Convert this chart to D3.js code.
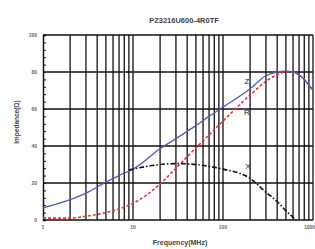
<!DOCTYPE html>
<html>
<head>
<meta charset="utf-8">
<script src="https://cdn.jsdelivr.net/npm/d3@7"></script>
<style>
body { margin: 0; background: #fff; }
svg { display: block; font-family: "Liberation Sans", Arial, sans-serif; }
</style>
</head>
<body>
<div id="chart"></div>
<script>
// data (frequency in MHz, impedance in ohm)
var freqZR = [1, 2, 3, 5, 7, 10, 20, 30, 50, 70, 100, 200, 300, 400, 500, 600, 700, 1000];
var zVals  = [6.5, 11, 14.5, 20.5, 24, 27.5, 38.5, 44, 51, 56, 61, 71, 78, 80, 80.5, 80, 78.5, 70];
var rVals  = [1, 1, 2, 4, 6, 9, 19.5, 28, 39, 46, 53.5, 67.5, 75, 78.5, 80, 80, 78.5, 70];
var freqX  = [9, 10, 20, 30, 50, 70, 100, 200, 300, 400, 500, 600, 650];
var xVals  = [27, 27.5, 30, 30.5, 30, 29, 27.5, 22.5, 15, 10, 5, 1.5, 0];
var yTicks = [0, 20, 40, 60, 80, 100];
var xTicks = [1, 10, 100, 1000];

var W = 315, H = 249;
var m = {left: 43, right: 2, top: 35, bottom: 29};

var svg = d3.select("#chart").append("svg")
	.attr("width", W).attr("height", H);

var x = d3.scaleLog().domain([1, 1000]).range([m.left, W - m.right]);
var y = d3.scaleLinear().domain([0, 100]).range([H - m.bottom, m.top]);

//vertical grid 1..9 per decade
var vgrid = [];
[1, 10, 100].forEach(function(dec) {
	for (var k = 2; k <= 10; k++) vgrid.push(dec * k);
});
svg.append("g").selectAll("line")
	.data(vgrid).enter().append("line")
	.attr("x1", function(d) {return x(d);})
	.attr("x2", function(d) {return x(d);})
	.attr("y1", y(0)).attr("y2", y(100))
	.style("stroke", "#111").style("stroke-width", 1.3);

svg.append("g").selectAll("line")
	.data(yTicks).enter().append("line")
	.attr("x1", m.left).attr("x2", W - m.right)
	.attr("y1", function(d) {return y(d);})
	.attr("y2", function(d) {return y(d);})
	.style("stroke", "#111").style("stroke-width", 1.3);

// y axis with minor ticks inside
var yAxis = svg.append("g")
	.attr("transform", "translate(" + m.left + ",0)")
	.call(d3.axisLeft(y).tickValues(d3.range(0, 101, 4)).tickSize(-3).tickFormat(""));
yAxis.select(".domain").style("stroke", "#111").style("stroke-width", 1.5);
yAxis.selectAll(".tick line").style("stroke", "#111").style("stroke-width", 1);

svg.append("g").selectAll("text")
	.data(yTicks).enter().append("text")
	.attr("x", m.left - 6)
	.attr("y", function(d) {return y(d) + 2;})
	.attr("text-anchor", "end")
	.style("font-size", "5px").style("font-weight", "bold").style("fill", "#666")
	.text(function(d) {return d;});

svg.append("g").selectAll("text")
	.data(xTicks).enter().append("text")
	.attr("x", function(d) {return d == 1000 ? W : x(d);})
	.attr("y", y(0) + 9)
	.attr("text-anchor", function(d) {return d == 1000 ? "end" : "middle";})
	.style("font-size", "5px").style("font-weight", "bold").style("fill", "#666")
	.text(function(d) {return d;});

// curves
var lineZR = function(vals) {
	return d3.line()
		.x(function(d, i) {return x(freqZR[i]);})
		.y(function(d) {return y(d);})
		.curve(d3.curveMonotoneX)(vals);
};

svg.append("path")
	.attr("d", lineZR(rVals))
	.style("fill", "none").style("stroke", "#e8323c")
	.style("stroke-width", 1.6).style("stroke-dasharray", "3,2");

svg.append("path")
	.attr("d", lineZR(zVals))
	.style("fill", "none").style("stroke", "#4b5cb8").style("stroke-width", 1.3);

svg.append("path")
	.attr("d", d3.line()
		.x(function(d, i) {return x(freqX[i]);})
		.y(function(d) {return y(d);})
		.curve(d3.curveMonotoneX)(xVals))
	.style("fill", "none").style("stroke", "#111")
	.style("stroke-width", 1.6).style("stroke-dasharray", "5,2,1.5,2");

// curve labels
var lab = [["Z", 247, 84], ["R", 247, 115], ["X", 248, 169]];
svg.append("g").selectAll("text")
	.data(lab).enter().append("text")
	.attr("x", function(d) {return d[1];})
	.attr("y", function(d) {return d[2];})
	.attr("text-anchor", "middle")
	.style("font-size", "8px").style("fill", "#222")
	.text(function(d) {return d[0];});

svg.append("text")
	.attr("x", 184).attr("y", 23)
	.attr("text-anchor", "middle")
	.style("font-size", "7.5px").style("font-weight", "bold").style("fill", "#444")
	.text("PZ3216U600-4R0TF");

svg.append("text")
	.attr("x", 180).attr("y", 245)
	.attr("text-anchor", "middle")
	.style("font-size", "7px").style("font-weight", "bold").style("fill", "#444")
	.text("Frequency(MHz)");

svg.append("text")
	.attr("transform", "translate(19,122) rotate(-90)")
	.attr("text-anchor", "middle")
	.style("font-size", "6.5px").style("font-weight", "bold").style("fill", "#444")
	.text("Impedance(Ω)");
</script>
</body>
</html>
